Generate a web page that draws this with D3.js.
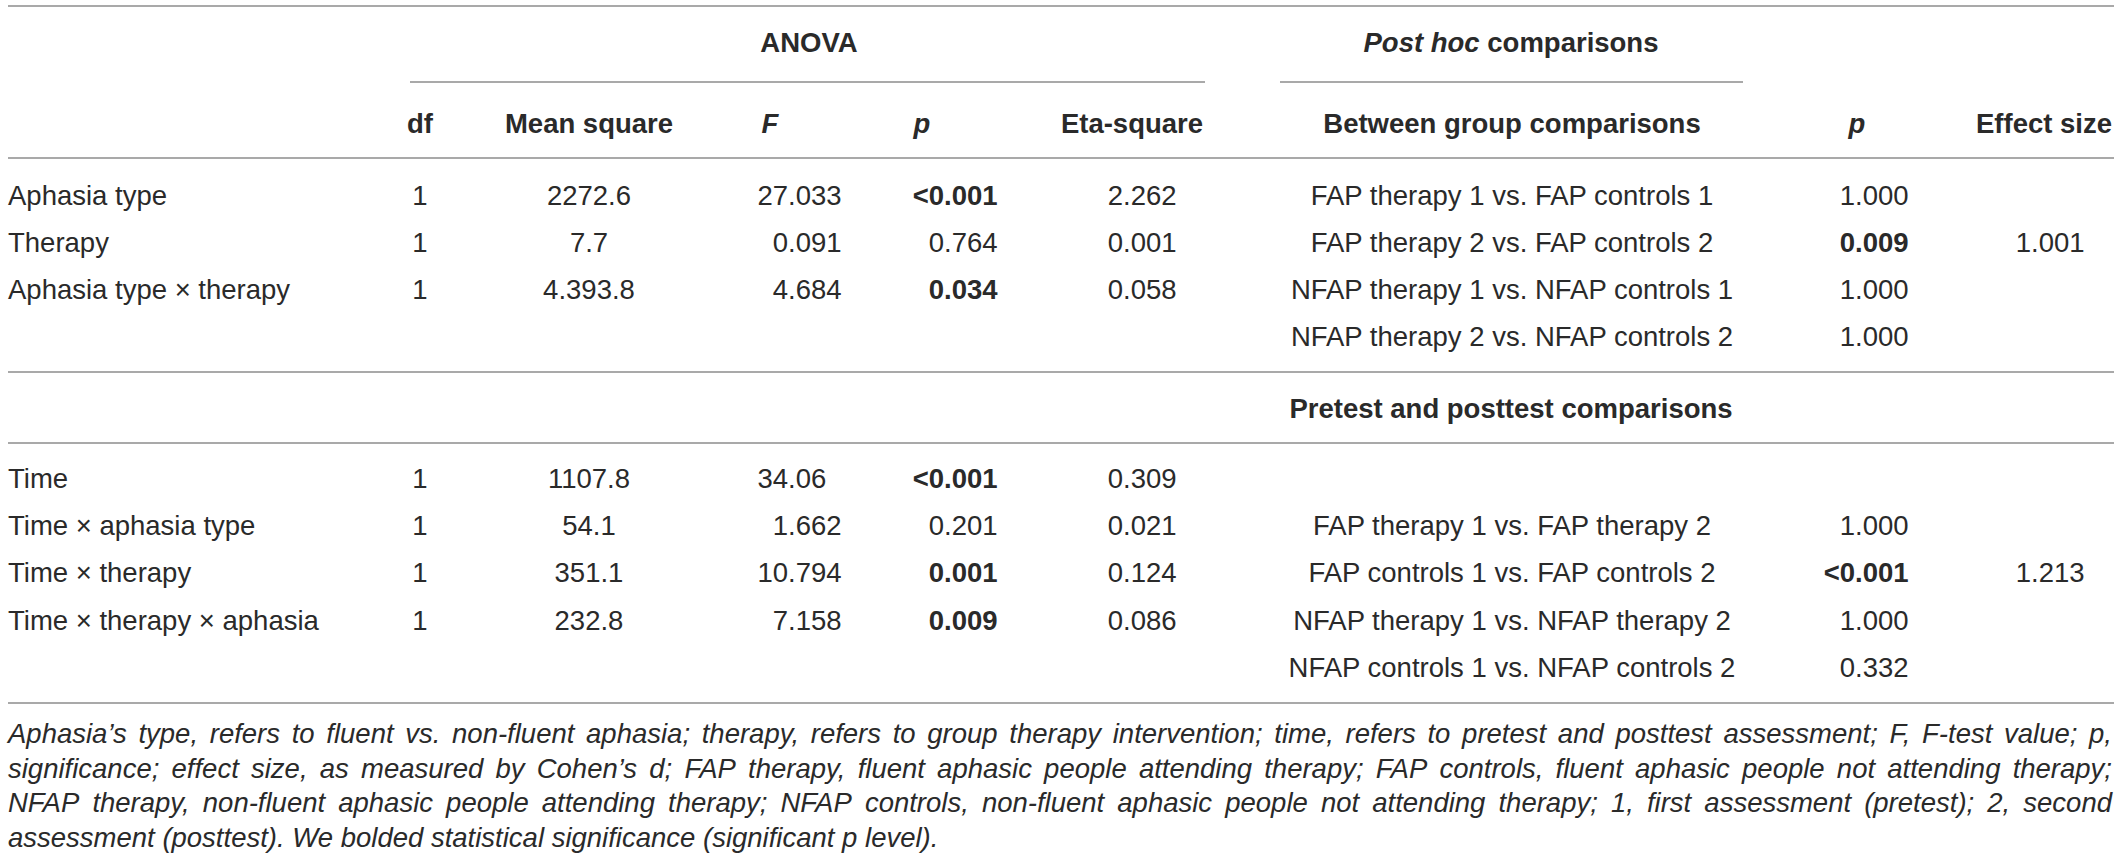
<!DOCTYPE html>
<html>
<head>
<meta charset="utf-8">
<script src="https://cdn.jsdelivr.net/npm/d3@7"></script>
<style>
  body { margin: 0; background: #fff; }
  text { font-family: "Liberation Sans", Arial, sans-serif; }
</style>
</head>
<body>
<div id="chart"></div>
<script>
// ANOVA, first block (between-subject effects)
const terms1 = ['Aphasia type', 'Therapy', 'Aphasia type × therapy'];
const df1 = ['1', '1', '1'];
const meanSq1 = ['2272.6', '7.7', '4.393.8'];
const fVals1 = ['27.033', '0.091', '4.684'];
const pVals1 = ['<0.001', '0.764', '0.034'];
const eta1 = ['2.262', '0.001', '0.058'];

// post hoc, between group comparisons
const betweenCmp = [
  'FAP therapy 1 vs. FAP controls 1',
  'FAP therapy 2 vs. FAP controls 2',
  'NFAP therapy 1 vs. NFAP controls 1',
  'NFAP therapy 2 vs. NFAP controls 2'
];
const betweenP = ['1.000', '0.009', '1.000', '1.000'];
const betweenEffect = ['', '1.001', '', ''];

// ANOVA, second block (time effects)
const terms2 = ['Time', 'Time × aphasia type', 'Time × therapy', 'Time × therapy × aphasia'];
const df2 = ['1', '1', '1', '1'];
const meanSq2 = ['1107.8', '54.1', '351.1', '232.8'];
const fVals2 = ['34.06', '1.662', '10.794', '7.158'];
const pVals2 = ['<0.001', '0.201', '0.001', '0.009'];
const eta2 = ['0.309', '0.021', '0.124', '0.086'];

// post hoc, pretest / posttest comparisons (start on 2nd row of block)
const prePostCmp = [
  'FAP therapy 1 vs. FAP therapy 2',
  'FAP controls 1 vs. FAP controls 2',
  'NFAP therapy 1 vs. NFAP therapy 2',
  'NFAP controls 1 vs. NFAP controls 2'
];
const prePostP = ['1.000', '<0.001', '1.000', '0.332'];
const prePostEffect = ['', '1.213', '', ''];

const footnote = [
  'Aphasia’s type, refers to fluent vs. non-fluent aphasia; therapy, refers to group therapy intervention; time, refers to pretest and posttest assessment; F, F-test value; p,',
  'significance; effect size, as measured by Cohen’s d; FAP therapy, fluent aphasic people attending therapy; FAP controls, fluent aphasic people not attending therapy;',
  'NFAP therapy, non-fluent aphasic people attending therapy; NFAP controls, non-fluent aphasic people not attending therapy; 1, first assessment (pretest); 2, second',
  'assessment (posttest). We bolded statistical significance (significant p level).'
];

const width = 2120, height = 864;
const left = 8, right = 2114;
const fs = 27.5;
const ink = '#2a2a2a', rule = '#8c8c8c';

const svg = d3.select('#chart')
  .append('svg')
  .attr('width', width)
  .attr('height', height);

// column centres
const colX = d3.scaleOrdinal()
  .domain(['df', 'ms', 'f', 'p', 'eta', 'cmp', 'cp', 'es'])
  .range([420, 589, 770, 922, 1132, 1512, 1857, 2044]);
// decimal point positions for aligned numeric columns
const decX = { f: 788, p: 944, eta: 1123, cp: 1855, es: 2031 };

// row positions
const y1 = d3.scalePoint().domain(d3.range(4)).range([195, 336]);
const y2 = d3.scalePoint().domain(d3.range(5)).range([478, 667]);

const isSig = s => s.startsWith('<') || parseFloat(s) < 0.05;

function txt(x, y, s, anchor, opts) {
  opts = opts || {};
  return svg.append('text')
    .attr('x', x)
    .attr('y', y)
    .attr('dy', '0.36em')
    .attr('text-anchor', anchor)
    .attr('font-size', opts.size || fs)
    .attr('font-weight', opts.bold ? 'bold' : 'normal')
    .attr('font-style', opts.italic ? 'italic' : 'normal')
    .attr('fill', ink)
    .text(s);
}

// number split at the decimal point so columns line up on it
function dec(key, y, s, bold) {
  if (!s) return;
  const i = s.lastIndexOf('.');
  txt(decX[key], y, s.slice(0, i), 'end', { bold: bold });
  txt(decX[key], y, s.slice(i), 'start', { bold: bold });
}

function hline(y, x0, x1) {
  svg.append('line')
    .attr('x1', x0).attr('x2', x1)
    .attr('y1', y).attr('y2', y)
    .attr('stroke', rule)
    .attr('stroke-width', 1.6);
}

// rules
hline(6, left, right);
hline(82, 410, 1205);
hline(82, 1280, 1743);
hline(158, left, right);
hline(372, left, right);
hline(443, left, right);
hline(703, left, right);

// group headers
txt(809, 42, 'ANOVA', 'middle', { bold: true });
const ph = txt(1511, 42, '', 'middle', { bold: true });
ph.append('tspan').attr('font-style', 'italic').text('Post hoc');
ph.append('tspan').text(' comparisons');
txt(1511, 408, 'Pretest and posttest comparisons', 'middle', { bold: true });

// column headers
const headers = [
  ['df', 'df', false], ['ms', 'Mean square', false], ['f', 'F', true],
  ['p', 'p', true], ['eta', 'Eta-square', false],
  ['cmp', 'Between group comparisons', false], ['cp', 'p', true], ['es', 'Effect size', false]
];
headers.forEach(h => txt(colX(h[0]), 123, h[1], 'middle', { bold: true, italic: h[2] }));

// ANOVA rows
function anovaBlock(yScale, terms, dfs, ms, fs_, ps, etas) {
  terms.forEach((t, i) => {
    const y = yScale(i);
    txt(left, y, t, 'start');
    txt(colX('df'), y, dfs[i], 'middle');
    txt(colX('ms'), y, ms[i], 'middle');
    dec('f', y, fs_[i], false);
    dec('p', y, ps[i], isSig(ps[i]));
    dec('eta', y, etas[i], false);
  });
}
anovaBlock(y1, terms1, df1, meanSq1, fVals1, pVals1, eta1);
anovaBlock(y2, terms2, df2, meanSq2, fVals2, pVals2, eta2);

// post hoc rows
function postHoc(yScale, offset, cmps, ps, effs) {
  cmps.forEach((c, i) => {
    const y = yScale(i + offset);
    txt(colX('cmp'), y, c, 'middle');
    dec('cp', y, ps[i], isSig(ps[i]));
    dec('es', y, effs[i], false);
  });
}
postHoc(y1, 0, betweenCmp, betweenP, betweenEffect);
postHoc(y2, 1, prePostCmp, prePostP, prePostEffect);

// footnote, justified except last line
const fnY = d3.scalePoint().domain(d3.range(footnote.length)).range([733, 837]);
footnote.forEach((line, li) => {
  const words = line.split(' ');
  const g = svg.append('g');
  const nodes = words.map(w => txt(0, fnY(li), w, 'start', { italic: true }));
  const widths = nodes.map(n => n.node().getComputedTextLength());
  const last = li === footnote.length - 1;
  const space = fs * 0.278;
  const gap = last ? space : (right - 2 - left - d3.sum(widths)) / (words.length - 1);
  let x = left;
  nodes.forEach((n, i) => {
    n.attr('x', x);
    x += widths[i] + gap;
  });
});
</script>
</body>
</html>
